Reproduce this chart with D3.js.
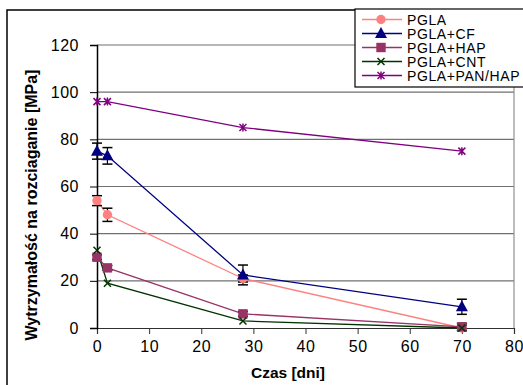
<!doctype html>
<html>
<head>
  <script src="https://d3js.org/d3.v7.min.js"></script>
  <style>
    body { margin: 0; background: #fff; }
    svg { display: block; font-family: Arial, "Liberation Sans", sans-serif; }
  </style>
</head>
<body>
<svg width="523" height="385"></svg>
<script>
  // days of measurement
  var days = [0, 2, 28, 70]

  var seriesNames = ["PGLA", "PGLA+CF", "PGLA+HAP", "PGLA+CNT", "PGLA+PAN/HAP"]
  var pgla = [54, 48, 21, 0]
  var pglaErr = [2.1, 2.8, 1.5, 1.2]
  var cf = [75, 73, 22.5, 9]
  var cfErr = [3.4, 3.5, 4.2, 3.2]
  var hap = [30, 25.5, 6, 0.5]
  var hapErr = [1, 1, 1, 1.5]
  var cnt = [33, 19, 3, 0]
  var panHap = [96, 96, 85, 75]

  var xTicks = [0, 10, 20, 30, 40, 50, 60, 70, 80]
  var yTicks = [0, 20, 40, 60, 80, 100, 120]

  var series = [
    { name: seriesNames[0], values: pgla, err: pglaErr, color: "#ff8080", marker: "circle" },
    { name: seriesNames[1], values: cf, err: cfErr, color: "#000080", marker: "triangle" },
    { name: seriesNames[2], values: hap, err: hapErr, color: "#993366", marker: "square" },
    { name: seriesNames[3], values: cnt, err: null, color: "#003300", marker: "x" },
    { name: seriesNames[4], values: panHap, err: null, color: "#800080", marker: "star" }
  ]

  var svg = d3.select("svg")

  var x = d3.scaleLinear().domain([0, 80]).range([97, 514])
  var y = d3.scaleLinear().domain([0, 120]).range([328, 45])

  // outer chart border
  svg.append("rect")
    .attr("x", 7).attr("y", 10)
    .attr("width", 540).attr("height", 400)
    .attr("fill", "#fff").attr("stroke", "#000").attr("stroke-width", 1.5)

  // gridlines
  svg.append("g")
    .selectAll("line")
    .data(yTicks.filter(function(d) { return d > 0 }))
    .enter()
    .append("line")
    .attr("x1", x(0)).attr("x2", x(80))
    .attr("y1", function(d) { return y(d) }).attr("y2", function(d) { return y(d) })
    .attr("stroke", "#707070").attr("stroke-width", 1.2)

  // right border of plot area
  svg.append("line")
    .attr("x1", x(80)).attr("x2", x(80))
    .attr("y1", y(120)).attr("y2", y(0))
    .attr("stroke", "#909090").attr("stroke-width", 1.2)

  // x axis
  var xAxis = d3.axisBottom(x).tickValues(xTicks).tickSize(6).tickPadding(7)
  var gx = svg.append("g")
    .attr("transform", "translate(0," + y(0) + ")")
    .call(xAxis)
  gx.select(".domain").attr("stroke", "#303030").attr("stroke-width", 1.2)
  gx.selectAll(".tick line").attr("stroke", "#303030")
  gx.selectAll("text")
    .attr("font-size", "16px")
    .attr("letter-spacing", "0.5px")
    .attr("font-family", "Arial, 'Liberation Sans', sans-serif")
    .attr("fill", "#000")

  // y axis
  var yAxis = d3.axisLeft(y).tickValues(yTicks).tickSize(7).tickPadding(11)
  var gy = svg.append("g")
    .attr("transform", "translate(" + x(0) + ",0)")
    .call(yAxis)
  gy.select(".domain").attr("stroke", "#000").attr("stroke-width", 1.5)
  gy.selectAll(".tick line").attr("stroke", "#000")
  gy.selectAll("text")
    .attr("font-size", "16px")
    .attr("letter-spacing", "0.5px")
    .attr("font-family", "Arial, 'Liberation Sans', sans-serif")
    .attr("fill", "#000")

  // axis titles
  svg.append("text")
    .attr("x", 288).attr("y", 378)
    .attr("text-anchor", "middle")
    .attr("font-size", "15.5px").attr("font-weight", "bold")
    .text("Czas [dni]")

  svg.append("text")
    .attr("transform", "translate(37,205) rotate(-90)")
    .attr("text-anchor", "middle")
    .attr("font-size", "16px").attr("font-weight", "bold")
    .text("Wytrzymałość na rozciaganie [MPa]")

  function drawMarker(g, type, color) {
    if (type == "circle") {
      g.append("circle").attr("r", 4.7).attr("fill", color)
    }
    if (type == "triangle") {
      g.append("path").attr("d", "M0,-6.5L6,4.5L-6,4.5Z").attr("fill", color)
    }
    if (type == "square") {
      g.append("rect").attr("x", -4.7).attr("y", -4.7).attr("width", 9.4).attr("height", 9.4).attr("fill", color)
    }
    if (type == "x") {
      g.append("path").attr("d", "M-3.5,-3.5L3.5,3.5M-3.5,3.5L3.5,-3.5")
        .attr("stroke", color).attr("stroke-width", 1.5).attr("fill", "none")
    }
    if (type == "star") {
      g.append("path").attr("d", "M-3.5,-3.5L3.5,3.5M-3.5,3.5L3.5,-3.5M0,-4L0,4")
        .attr("stroke", color).attr("stroke-width", 1.5).attr("fill", "none")
    }
  }

  var line = d3.line()
    .x(function(d) { return x(d[0]) })
    .y(function(d) { return y(d[1]) })

  // lines
  series.forEach(function(s) {
    svg.append("path")
      .datum(days.map(function(d, i) { return [d, s.values[i]] }))
      .attr("d", line)
      .attr("fill", "none")
      .attr("stroke", s.color)
      .attr("stroke-width", 1.3)
  })

  // error bars
  series.forEach(function(s) {
    if (!s.err) return
    var eb = svg.append("g")
    days.forEach(function(d, i) {
      var cx = x(d)
      var top = y(s.values[i] + s.err[i])
      var bot = y(s.values[i] - s.err[i])
      eb.append("line").attr("x1", cx).attr("x2", cx).attr("y1", top).attr("y2", bot)
        .attr("stroke", "#000").attr("stroke-width", 1.2)
      eb.append("line").attr("x1", cx - 5).attr("x2", cx + 5).attr("y1", top).attr("y2", top)
        .attr("stroke", "#000").attr("stroke-width", 1.5)
      eb.append("line").attr("x1", cx - 5).attr("x2", cx + 5).attr("y1", bot).attr("y2", bot)
        .attr("stroke", "#000").attr("stroke-width", 1.5)
    })
  })

  // markers
  series.forEach(function(s) {
    days.forEach(function(d, i) {
      var g = svg.append("g").attr("transform", "translate(" + x(d) + "," + y(s.values[i]) + ")")
      drawMarker(g, s.marker, s.color)
    })
  })

  // legend
  var legend = svg.append("g")
  legend.append("rect")
    .attr("x", 355).attr("y", 9)
    .attr("width", 180).attr("height", 78)
    .attr("fill", "#fff").attr("stroke", "#000").attr("stroke-width", 1.2)

  series.forEach(function(s, i) {
    var ly = 19.5 + i * 14
    legend.append("line")
      .attr("x1", 362).attr("x2", 402).attr("y1", ly).attr("y2", ly)
      .attr("stroke", s.color).attr("stroke-width", 1.3)
    var g = legend.append("g").attr("transform", "translate(381," + ly + ")")
    drawMarker(g, s.marker, s.color)
    legend.append("text")
      .attr("x", 407).attr("y", ly + 5)
      .attr("font-size", "14px")
      .attr("letter-spacing", "0.6px")
      .text(s.name)
  })
</script>
</body>
</html>
